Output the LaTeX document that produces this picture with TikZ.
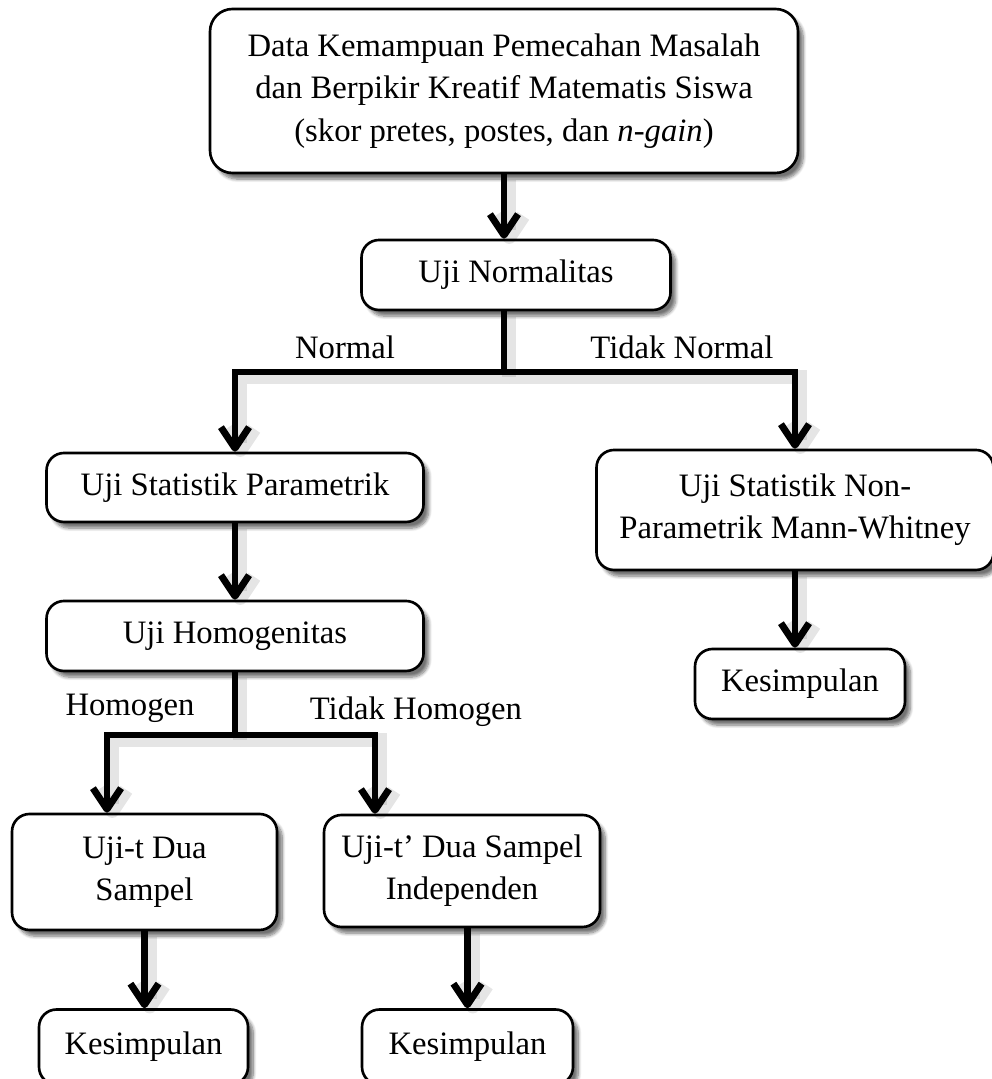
\documentclass[tikz,border=0pt]{standalone}
\usepackage{fontspec}
\setmainfont{Liberation Serif}
\usetikzlibrary{arrows.meta,shadows.blur}

\begin{document}
\begin{tikzpicture}[
  box/.style={draw,line width=1.5pt,rounded corners=0.35cm,align=center,fill=white,inner sep=2pt,
    blur shadow={shadow xshift=3pt,shadow yshift=-3.5pt,shadow blur steps=8,shadow opacity=55},
    font=\fontsize{18.6}{24}\selectfont},
  wire/.style={line width=3.9pt,-{Straight Barb[length=12pt,width=16pt,line join=round]},
    preaction={draw=black,opacity=0.1,line width=8pt,transform canvas={shift={(3pt,-3pt)}}}},
  lbl/.style={font=\fontsize{18.6}{24}\selectfont}
]
\useasboundingbox (0,0) rectangle (19.84,21.58);
\clip (0,0) rectangle (19.84,21.58);

\node[box,minimum width=11.76cm,minimum height=3.28cm,rounded corners=0.45cm] (data) at (10.08,19.76)
  {Data Kemampuan Pemecahan Masalah\\dan Berpikir Kreatif Matematis Siswa\\(skor pretes, postes, dan \textit{n-gain})};
\node[box,minimum width=6.18cm,minimum height=1.40cm] (normalitas) at (10.32,16.08) {Uji Normalitas};
\node[box,minimum width=7.54cm,minimum height=1.38cm] (param) at (4.70,11.83) {Uji Statistik Parametrik};
\node[box,minimum width=7.94cm,minimum height=2.40cm] (nonparam) at (15.90,11.38) {Uji Statistik Non-\\Parametrik Mann-Whitney};
\node[box,minimum width=7.54cm,minimum height=1.40cm] (homog) at (4.70,8.86) {Uji Homogenitas};
\node[box,minimum width=4.20cm,minimum height=1.40cm] (kes3) at (16.00,7.90) {Kesimpulan};
\node[box,minimum width=5.30cm,minimum height=2.32cm] (ujit) at (2.89,4.14) {Uji-t Dua\\Sampel};
\node[box,minimum width=5.52cm,minimum height=2.24cm] (ujitt) at (9.24,4.16) {Uji-t’ Dua Sampel\\Independen};
\node[box,minimum width=4.18cm,minimum height=1.50cm] (kes1) at (2.87,0.64) {Kesimpulan};
\node[box,minimum width=4.22cm,minimum height=1.50cm] (kes2) at (9.35,0.64) {Kesimpulan};

\node[lbl] (lnormal) at (6.90,14.64) {Normal};
\node[lbl] (ltnormal) at (13.64,14.64) {Tidak Normal};
\node[lbl] (lhomog) at (2.60,7.42) {Homogen};
\node[lbl] (lthomog) at (8.32,7.34) {Tidak Homogen};

\coordinate (split1) at (10.08,14.14);
\coordinate (split2) at (4.70,6.88);
\coordinate (hl) at (2.14,6.88);
\coordinate (hr) at (7.50,6.88);

\draw[wire] (data) -- (data |- normalitas.north);
\draw[wire,-] (normalitas.south -| split1) -- (split1);
\draw[wire] (split1) -| (param.north);
\draw[wire] (split1) -| (nonparam.north);
\draw[wire] (param) -- (homog);
\draw[wire] (nonparam) -- (nonparam |- kes3.north);
\draw[wire,-] (homog) -- (split2);
\draw[wire] (split2) -- (hl) -- (hl |- ujit.north);
\draw[wire] (split2) -- (hr) -- (hr |- ujitt.north);
\draw[wire] (ujit) -- (ujit |- kes1.north);
\draw[wire] (ujitt.south -| kes2) -- (kes2);
\end{tikzpicture}
\end{document}
